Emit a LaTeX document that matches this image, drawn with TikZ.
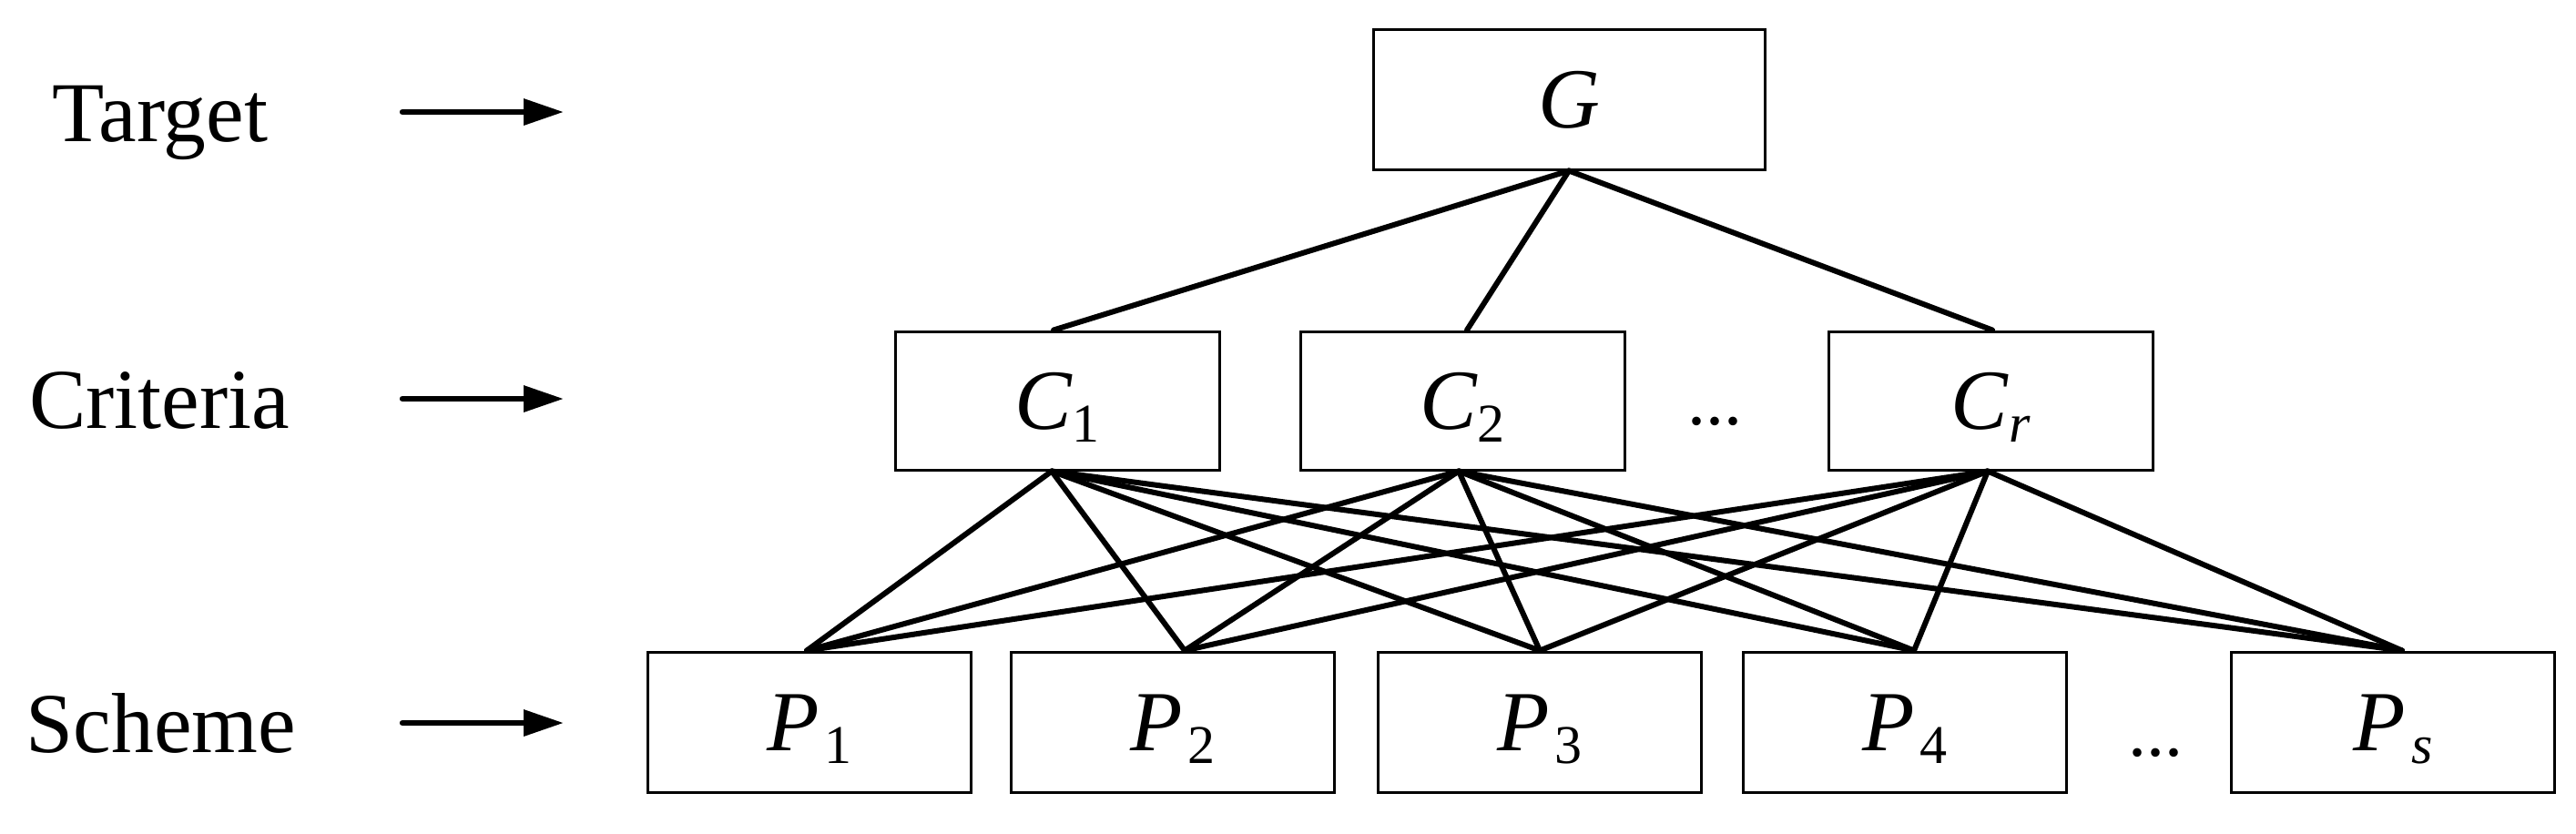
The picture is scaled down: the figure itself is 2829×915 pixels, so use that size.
\documentclass[tikz,border=0pt]{standalone}
\usepackage{fontspec}
\setmainfont{Liberation Serif}
\usetikzlibrary{arrows.meta}
\newcommand\subx[1]{\raisebox{-3.5pt}{\fontsize{15}{15}\selectfont #1}}
\begin{document}
\begin{tikzpicture}[x=0.25pt,y=-0.25pt,
  box/.style={draw, line width=0.75pt, inner sep=0pt, text height=15.6pt, text depth=0pt,
    font=\fontsize{23.5}{23.5}\selectfont},
  gbox/.style={box, minimum width=107.5pt, minimum height=38.5pt},
  cbox/.style={box, minimum width=89pt, minimum height=38pt},
  pbox/.style={box, minimum width=88.75pt, minimum height=38.5pt},
  lbl/.style={font=\fontsize{23.4}{23.4}\selectfont, inner sep=0pt, anchor=base},
  dotsn/.style={font=\fontsize{20}{20}\selectfont, inner sep=0pt, anchor=base},
  link/.style={line width=1.5pt, line cap=round},
  arr/.style={line width=1.6pt, line cap=round, -{Triangle[length=11pt,width=7pt]}}]
\useasboundingbox (0,0) rectangle (2829,915);
% row labels
\node[lbl] (tgt) at (176,155) {Target};
\node[lbl] (cri) at (175,470) {Criteria};
\node[lbl] (sch) at (177,826) {Scheme};
\coordinate (a1s) at (442,123); \coordinate (a1e) at (619,123);
\coordinate (a2s) at (442,438); \coordinate (a2e) at (619,438);
\coordinate (a3s) at (442,794); \coordinate (a3e) at (619,794);
\draw[arr] (a1s) -- (a1e);
\draw[arr] (a2s) -- (a2e);
\draw[arr] (a3s) -- (a3e);
% boxes
\node[gbox] (G) at (1723,109) {\textit{G}};
\node[cbox] (C1) at (1161,440) {\textit{C}\subx{1}};
\node[cbox] (C2) at (1606,440) {\textit{C}\subx{2}};
\node[cbox] (Cr) at (2186,440) {\textit{C}\subx{\textit{r}}};
\node[dotsn] (d1) at (1883,466) {...};
\node[pbox] (P1) at (889,793) {\textit{P}\kern1.5pt\subx{1}};
\node[pbox] (P2) at (1288,793) {\textit{P}\kern1.5pt\subx{2}};
\node[pbox] (P3) at (1691,793) {\textit{P}\kern1.5pt\subx{3}};
\node[pbox] (P4) at (2092,793) {\textit{P}\kern1.5pt\subx{4}};
\node[dotsn] (d2) at (2367,830) {...};
\node[pbox] (Ps) at (2628,793) {\textit{P}\kern1.5pt\subx{\textit{s}}};
% attachment points
\coordinate (c1b) at ([xshift=-1.5pt]C1.south);
\coordinate (c2b) at ([xshift=-1pt]C2.south);
\coordinate (crb) at ([xshift=-0.75pt]Cr.south);
\coordinate (p1t) at ([xshift=-0.75pt]P1.north);
\coordinate (p2t) at ([xshift=3.25pt]P2.north);
\coordinate (p3t) at (P3.north);
\coordinate (p4t) at ([xshift=2.5pt]P4.north);
\coordinate (pst) at ([xshift=2.5pt]Ps.north);
% links
\draw[link] (G.south) -- ([xshift=-1pt]C1.north);
\draw[link] (G.south) -- ([xshift=1.25pt]C2.north);
\draw[link] (G.south) -- ([xshift=0.5pt]Cr.north);
\foreach \c in {c1b,c2b,crb}{
  \foreach \p in {p1t,p2t,p3t,p4t,pst}{
    \draw[link] (\c) -- (\p);
  }
}
\end{tikzpicture}
\end{document}
